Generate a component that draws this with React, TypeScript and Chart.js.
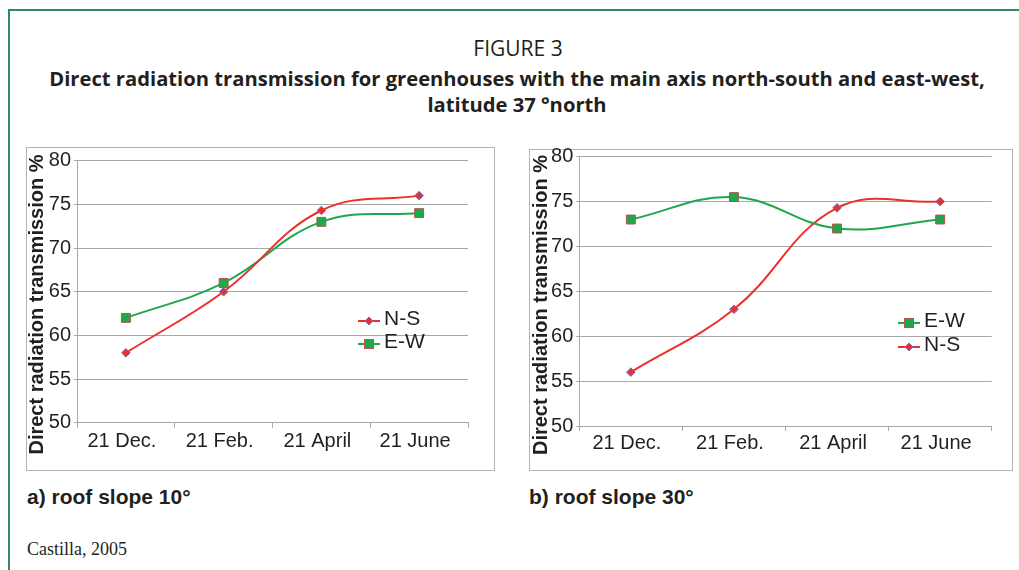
import React, { useEffect, useRef } from "react";
import { Chart, registerables } from "chart.js";

Chart.register(...registerables);

const categories = ["21 Dec.", "21 Feb.", "21 April", "21 June"];
const yMin = 50;
const yMax = 80;
const yStep = 5;

// a) roof slope 10°
const slope10NS = [58, 65, 74.3, 76];
const slope10EW = [62, 66, 73, 74];
// b) roof slope 30°
const slope30EW = [73, 75.5, 72, 73];
const slope30NS = [56, 63, 74.3, 75];

const RED = "#ec2f2b";
const GREEN = "#1ea84c";
const NS_BORDER = "#6b70c8";
const EW_BORDER = "#b5534f";
const GRID = "#a8a8a8";
const TXT = "#231f20";
const SANS = "'Liberation Sans', Arial, sans-serif";

type Series = { label: string; data: number[]; kind: "NS" | "EW" };

function makeDataset(s: Series) {
  const ns = s.kind === "NS";
  return {
    label: s.label,
    data: s.data,
    borderColor: ns ? RED : GREEN,
    backgroundColor: ns ? RED : GREEN,
    borderWidth: 2,
    tension: 0.4,
    pointStyle: ns ? "rectRot" : "rect",
    pointRadius: ns ? 4.3 : 6.3,
    pointBorderColor: ns ? NS_BORDER : EW_BORDER,
    pointBackgroundColor: ns ? RED : GREEN,
    pointBorderWidth: 1,
  };
}

function drawMarker(ctx: CanvasRenderingContext2D, kind: "NS" | "EW", x: number, y: number) {
  ctx.save();
  ctx.lineWidth = 1;
  if (kind === "NS") {
    const r = 4;
    ctx.beginPath();
    ctx.moveTo(x - r, y);
    ctx.lineTo(x, y - r);
    ctx.lineTo(x + r, y);
    ctx.lineTo(x, y + r);
    ctx.closePath();
    ctx.fillStyle = RED;
    ctx.fill();
    ctx.strokeStyle = NS_BORDER;
    ctx.stroke();
  } else {
    const h = 4.5;
    ctx.fillStyle = GREEN;
    ctx.fillRect(x - h, y - h, 2 * h, 2 * h);
    ctx.strokeStyle = EW_BORDER;
    ctx.strokeRect(x - h, y - h, 2 * h, 2 * h);
  }
  ctx.restore();
}

type PanelProps = {
  series: Series[];
  canvasLeft: number;
  canvasTop: number;
  width: number;
  height: number;
  padTop: number;
  padRight: number;
  yAxisWidth: number;
  xAxisHeight: number;
  xLabelPad: number;
  titleX: number;
  titleY: number;
  legendX: number;
  legendY: number[];
};

function Panel(p: PanelProps) {
  const ref = useRef<HTMLCanvasElement | null>(null);
  useEffect(() => {
    if (!ref.current) return;
    const overlay = {
      id: "overlay",
      afterDraw(chart: any) {
        const ctx: CanvasRenderingContext2D = chart.ctx;
        ctx.save();
        ctx.translate(p.titleX, p.titleY);
        ctx.rotate(-Math.PI / 2);
        ctx.font = `bold 20px ${SANS}`;
        ctx.fillStyle = TXT;
        ctx.textAlign = "center";
        ctx.textBaseline = "middle";
        ctx.fillText("Direct radiation transmission %", 0, 0);
        ctx.restore();
        p.series.forEach((s, i) => {
          const y = p.legendY[i];
          ctx.save();
          ctx.strokeStyle = s.kind === "NS" ? RED : GREEN;
          ctx.lineWidth = 2;
          ctx.beginPath();
          ctx.moveTo(p.legendX, y);
          ctx.lineTo(p.legendX + 22, y);
          ctx.stroke();
          ctx.restore();
          drawMarker(ctx, s.kind, p.legendX + 11, y);
          ctx.save();
          ctx.font = `21px ${SANS}`;
          ctx.fillStyle = TXT;
          ctx.textAlign = "left";
          ctx.textBaseline = "middle";
          ctx.fillText(s.label, p.legendX + 26, y - 2);
          ctx.restore();
        });
      },
    };
    const chart = new Chart(ref.current, {
      type: "line",
      data: {
        labels: categories,
        datasets: p.series.map(makeDataset) as any,
      },
      options: {
        responsive: false,
        animation: false,
        devicePixelRatio: 1,
        layout: { padding: { top: p.padTop, right: p.padRight, left: 0, bottom: 0 } },
        plugins: { legend: { display: false }, tooltip: { enabled: false }, title: { display: false } },
        scales: {
          x: {
            offset: true,
            grid: { offset: true, drawOnChartArea: false, drawTicks: true, tickLength: 5, color: GRID },
            border: { color: GRID },
            ticks: {
              font: { family: SANS, size: 20 },
              color: TXT,
              padding: p.xLabelPad,
              maxRotation: 0,
              labelOffset: -4,
            },
            afterFit: (s: any) => {
              s.height = p.xAxisHeight;
            },
          },
          y: {
            min: yMin,
            max: yMax,
            grid: { color: GRID, tickLength: 3 },
            border: { color: GRID },
            ticks: {
              stepSize: yStep,
              font: { family: SANS, size: 20, lineHeight: 1 },
              color: TXT,
              padding: 3,
            },
            afterFit: (s: any) => {
              s.width = p.yAxisWidth;
            },
          },
        },
      } as any,
      plugins: [overlay],
    });
    return () => chart.destroy();
  }, []);
  return (
    <canvas
      ref={ref}
      width={p.width}
      height={p.height}
      style={{ position: "absolute", left: p.canvasLeft, top: p.canvasTop, width: p.width, height: p.height }}
    />
  );
}

const abs = (left: number, top: number, extra: React.CSSProperties = {}): React.CSSProperties => ({
  position: "absolute",
  left,
  top,
  whiteSpace: "nowrap",
  margin: 0,
  ...extra,
});

export default function App() {
  return (
    <div style={{ position: "fixed", left: 0, top: 0, width: 1019, height: 570, background: "#fff", overflow: "hidden" }}>
      <div
        style={{
          position: "absolute",
          left: 8,
          top: 9,
          width: 1100,
          height: 700,
          borderTop: "2px solid #2f8a6a",
          borderLeft: "2px solid #2f8a6a",
        }}
      />
      <div style={abs(9, 37, { width: 1018, textAlign: "center", fontFamily: "'Open Sans', sans-serif", fontSize: 21, lineHeight: "22px", color: TXT })}>
        FIGURE 3
      </div>
      <div
        style={abs(8, 65, {
          width: 1018,
          textAlign: "center",
          fontFamily: "'Open Sans', sans-serif",
          fontWeight: "bold",
          fontSize: 20.2,
          lineHeight: "26px",
          color: TXT,
          whiteSpace: "normal",
        })}
      >
        Direct radiation transmission for greenhouses with the main axis north-south and east-west,
        <br />
        latitude 37 °north
      </div>

      <div style={abs(26, 147, { width: 469, height: 324, border: "1px solid #b4b4b4", boxSizing: "border-box" })} />
      <div style={abs(529, 149, { width: 484, height: 322, border: "1px solid #b4b4b4", boxSizing: "border-box" })} />

      <Panel
        series={[
          { label: "N-S", data: slope10NS, kind: "NS" },
          { label: "E-W", data: slope10EW, kind: "EW" },
        ]}
        canvasLeft={27}
        canvasTop={130}
        width={466}
        height={341}
        padTop={30.7}
        padRight={25}
        yAxisWidth={50}
        xAxisHeight={48.3}
        xLabelPad={2}
        titleX={10}
        titleY={174.5}
        legendX={331}
        legendY={[191, 214]}
      />
      <Panel
        series={[
          { label: "E-W", data: slope30EW, kind: "EW" },
          { label: "N-S", data: slope30NS, kind: "NS" },
        ]}
        canvasLeft={530}
        canvasTop={130}
        width={482}
        height={340}
        padTop={26.7}
        padRight={20.3}
        yAxisWidth={49.3}
        xAxisHeight={44}
        xLabelPad={0}
        titleX={11.7}
        titleY={175}
        legendX={368}
        legendY={[193, 217]}
      />

      <div style={abs(27, 485, { fontFamily: SANS, fontWeight: "bold", fontSize: 21, lineHeight: "24px", color: TXT })}>
        a) roof slope 10°
      </div>
      <div style={abs(529, 485, { fontFamily: SANS, fontWeight: "bold", fontSize: 21, lineHeight: "24px", color: TXT })}>
        b) roof slope 30°
      </div>
      <div style={abs(27, 539, { fontFamily: "'Liberation Serif', serif", fontSize: 18, lineHeight: "20px", color: TXT })}>
        Castilla, 2005
      </div>
    </div>
  );
}
